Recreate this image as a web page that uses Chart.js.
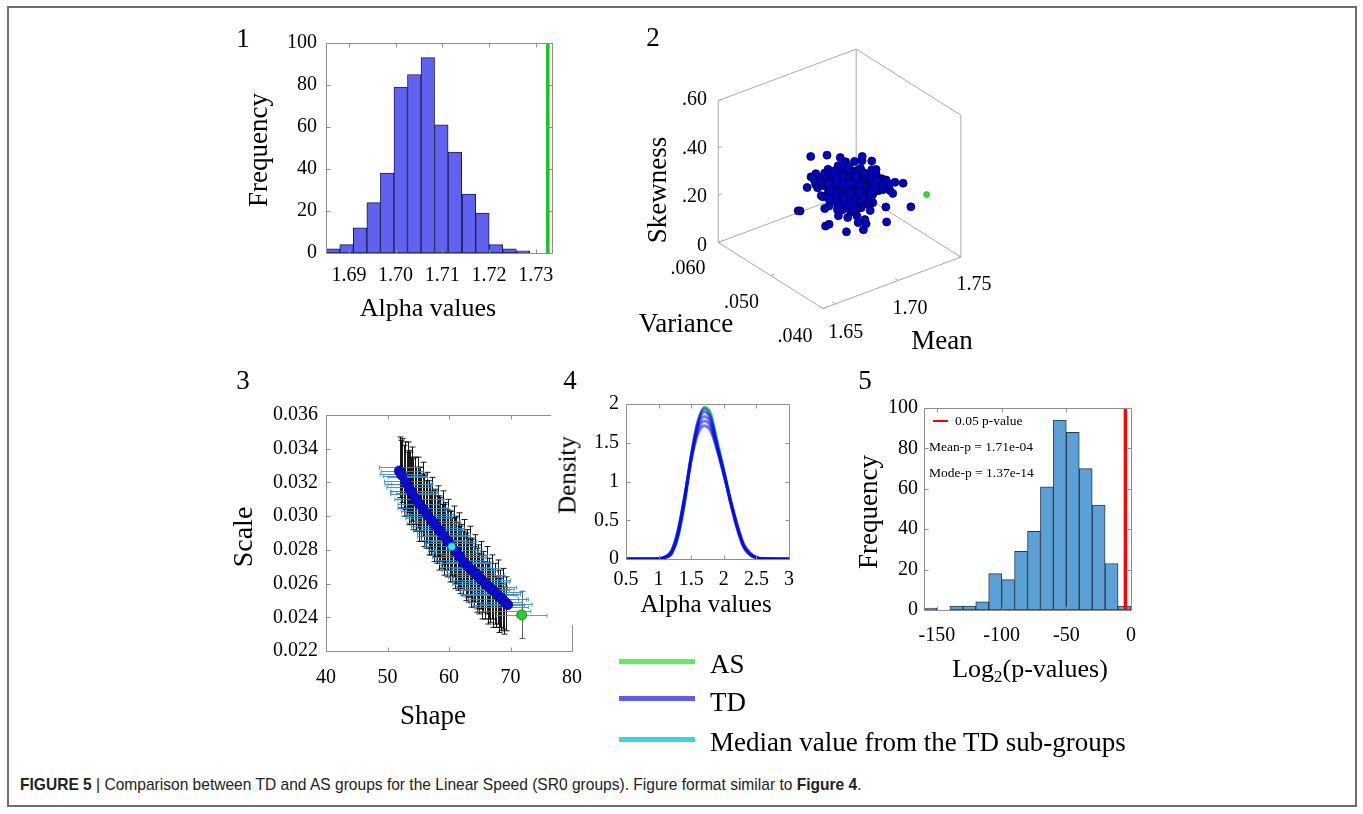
<!DOCTYPE html>
<html><head><meta charset="utf-8">
<script src="https://cdn.jsdelivr.net/npm/chart.js@4.4.1/dist/chart.umd.min.js"></script>
<style>
html,body{margin:0;padding:0;background:#fff;}
body{width:1363px;height:814px;position:relative;overflow:hidden;font-family:"Liberation Serif","Times New Roman",serif;color:#000;}
canvas{position:absolute;}
.t{position:absolute;white-space:nowrap;line-height:1;}
#frame{position:absolute;left:7px;top:6px;width:1350px;height:801px;border:2px solid #6e6e6e;box-sizing:border-box;}
#caption{position:absolute;left:20px;top:775px;font-family:"Liberation Sans Narrow","Liberation Sans",sans-serif;font-size:17px;color:#222;white-space:nowrap;transform:scaleX(0.915);transform-origin:0 50%;}
.lg{position:absolute;height:5px;}
sub{font-size:65%;vertical-align:-0.3em;line-height:0;}
</style></head><body>
<div id="frame"></div>
<canvas id="c1"></canvas><canvas id="c2"></canvas><canvas id="c3"></canvas><canvas id="c4"></canvas><canvas id="c5"></canvas>
<div id="caption"><b>FIGURE 5</b> | Comparison between TD and AS groups for the Linear Speed (SR0 groups). Figure format similar to <b>Figure 4</b>.</div>
<script>
// ---------------- DATA ----------------
// Panel 1: histogram of alpha values (TD) and AS value
const p1BinCenters = [1.6866,1.6895,1.6924,1.6953,1.6982,1.7011,1.7040,1.7069,1.7098,1.7127,1.7157,1.7186,1.7215,1.7244,1.7273];
const p1Counts = [2,4,12,24,38,79,85,93,61,48,28,19,4,2,1];
const p1XTicks = [1.69,1.70,1.71,1.72,1.73];
const p1YTicks = [0,20,40,60,80,100];
const p1AsAlpha = 1.7326;

// Panel 2: 3-D scatter (mean, variance, skewness)
const tdMean = [
1.703,1.712,1.698,1.707,1.719,1.694,1.701,1.709,1.715,1.689,
1.705,1.711,1.697,1.722,1.700,1.708,1.693,1.716,1.704,1.699,
1.713,1.706,1.691,1.718,1.702,1.710,1.696,1.724,1.707,1.700,
1.714,1.687,1.709,1.703,1.720,1.695,1.712,1.706,1.698,1.717,
1.704,1.692,1.711,1.708,1.701,1.726,1.697,1.713,1.705,1.690,
1.716,1.702,1.709,1.694,1.721,1.707,1.700,1.714,1.696,1.710,
1.703,1.718,1.688,1.706,1.712,1.699,1.715,1.704,1.693,1.709,
1.723,1.701,1.708,1.697,1.713,1.705,1.719,1.692,1.711,1.702,
1.706,1.716,1.695,1.710,1.700,1.728,1.704,1.698,1.714,1.707,
1.691,1.712,1.703,1.717,1.699,1.709,1.685,1.715,1.706,1.701,
1.720,1.696,1.711,1.704,1.708,1.694,1.713,1.700,1.718,1.705,
1.697,1.710,1.725,1.702,1.707,1.693,1.716,1.703,1.711,1.699,
1.708,1.714,1.690,1.706,1.701,1.719,1.697,1.712,1.704,1.709,
1.695,1.717,1.702,1.710,1.686,1.707,1.713,1.700,1.722,1.705,
1.698,1.711,1.706,1.693,1.715,1.703,1.709,1.720,1.701,1.696,
1.712,1.704,1.718,1.699,1.707,1.692,1.714,1.708,1.702,1.727,
1.705,1.697,1.710,1.716,1.700,1.711,1.694,1.706,1.713,1.703,
1.689,1.708,1.701,1.719,1.704,1.698,1.715,1.707,1.712,1.696,
1.709,1.723,1.702,1.706,1.691,1.713,1.700,1.717,1.705,1.710,
1.699,1.704,1.714,1.695,1.708,1.701,1.721,1.703,1.697,1.711,
1.672,1.685,1.662,1.731,1.729,1.7005,1.695,1.712,1.688,1.720,1.676,1.735,
1.714,1.696,1.721,1.703,1.709,1.690,1.717,1.700,1.711,1.726,
1.698,1.712,1.705,1.719,1.693,1.708,1.715,1.701,1.723,1.706,
1.697,1.713,1.709,1.688,1.716,1.704,1.720,1.699,1.711,1.707,
1.702,1.724,1.695,1.712,1.706,1.718,1.700,1.714,1.691,1.709,
1.717,1.703,1.710,1.722,1.698,1.713,1.705,1.692,1.716,1.708,
1.701,1.719,1.707,1.696,1.712,1.725,1.704,1.710,1.699,1.715,
1.706,1.694,1.718,1.702,1.711,1.708,1.720,1.697,1.713,1.705,
1.716,1.700,1.709,1.689,1.714,1.706,1.703,1.721,1.711,1.698,
1.708,1.715,1.693,1.710,1.719,1.702,1.712,1.707,1.696,1.717,
1.704,1.711,1.723,1.700,1.709,1.714,1.697,1.706,1.718,1.702];
const tdVariance = [
.0502,.0487,.0515,.0496,.0508,.0521,.0479,.0504,.0493,.0531,
.0499,.0512,.0484,.0506,.0525,.0491,.0517,.0500,.0476,.0509,
.0495,.0528,.0503,.0489,.0514,.0498,.0522,.0481,.0507,.0494,
.0519,.0501,.0486,.0511,.0497,.0535,.0492,.0505,.0516,.0483,
.0508,.0524,.0490,.0502,.0513,.0478,.0506,.0499,.0520,.0488,
.0497,.0510,.0482,.0526,.0495,.0504,.0515,.0491,.0507,.0473,
.0512,.0496,.0529,.0500,.0485,.0518,.0493,.0509,.0523,.0498,
.0480,.0505,.0514,.0490,.0503,.0527,.0494,.0511,.0487,.0501,
.0516,.0492,.0506,.0532,.0497,.0485,.0510,.0502,.0519,.0489,
.0508,.0495,.0521,.0484,.0513,.0499,.0538,.0491,.0504,.0517,
.0486,.0511,.0498,.0525,.0493,.0507,.0480,.0514,.0496,.0503,
.0520,.0490,.0477,.0509,.0501,.0524,.0488,.0512,.0495,.0516,
.0499,.0483,.0530,.0505,.0492,.0510,.0518,.0487,.0506,.0497,
.0522,.0489,.0508,.0494,.0533,.0502,.0481,.0515,.0498,.0507,
.0513,.0496,.0485,.0527,.0491,.0504,.0519,.0479,.0510,.0523,
.0488,.0506,.0494,.0517,.0500,.0529,.0483,.0498,.0511,.0475,
.0503,.0520,.0492,.0486,.0514,.0497,.0526,.0505,.0490,.0509,
.0534,.0495,.0512,.0482,.0501,.0518,.0487,.0507,.0496,.0521,
.0493,.0478,.0510,.0504,.0528,.0489,.0515,.0485,.0502,.0494,
.0511,.0506,.0484,.0522,.0497,.0513,.0480,.0500,.0517,.0492,
.050,.050,.050,.045,.046,.050,.052,.049,.051,.047,.053,.049,
.0501,.0495,.0506,.0498,.0510,.0492,.0503,.0508,.0497,.0504,
.0499,.0511,.0494,.0502,.0507,.0496,.0505,.0500,.0509,.0493,
.0503,.0498,.0512,.0501,.0495,.0506,.0499,.0504,.0510,.0497,
.0502,.0508,.0494,.0505,.0500,.0511,.0496,.0503,.0498,.0507,
.0504,.0499,.0509,.0493,.0502,.0506,.0497,.0501,.0512,.0495,
.0500,.0505,.0498,.0508,.0503,.0494,.0507,.0501,.0496,.0510,
.0497,.0503,.0509,.0500,.0505,.0492,.0502,.0507,.0499,.0504,
.0508,.0496,.0501,.0506,.0498,.0511,.0503,.0495,.0505,.0500,
.0502,.0509,.0497,.0504,.0499,.0507,.0494,.0503,.0510,.0501,
.0506,.0498,.0503,.0508,.0495,.0502,.0500,.0505,.0497,.0509];
const tdSkewness = [
.24,.21,.27,.19,.25,.30,.22,.18,.26,.29,
.23,.16,.28,.24,.20,.33,.22,.25,.10,.27,
.21,.26,.31,.23,.19,.28,.24,.15,.22,.35,
.25,.20,.27,.22,.29,.18,.24,.26,.21,.32,
.23,.28,.11,.25,.36,.22,.27,.20,.24,.30,
.17,.26,.23,.29,.21,.25,.14,.28,.22,.24,
.27,.20,.25,.31,.23,.18,.26,.22,.29,.09,
.24,.33,.19,.27,.23,.25,.16,.28,.22,.26,
.30,.21,.24,.18,.27,.23,.34,.20,.25,.22,
.28,.24,.12,.26,.21,.29,.23,.17,.27,.32,
.22,.25,.28,.13,.24,.20,.26,.31,.23,.19,
.27,.22,.25,.30,.18,.24,.21,.28,.37,.23,
.20,.26,.23,.29,.16,.25,.22,.27,.11,.24,
.31,.21,.26,.24,.28,.15,.23,.30,.20,.25,
.22,.27,.33,.19,.24,.26,.21,.28,.17,.23,
.25,.20,.29,.22,.35,.24,.27,.12,.26,.21,
.28,.23,.19,.25,.30,.22,.14,.27,.24,.20,
.26,.32,.21,.24,.18,.28,.23,.25,.29,.22,
.19,.27,.24,.16,.26,.21,.31,.23,.20,.28,
.24,.22,.36,.25,.19,.27,.23,.30,.21,.26,
.44,.42,.23,.18,.27,.065,.08,.09,.10,.11,.16,.22,
.20,.26,.17,.24,.29,.19,.22,.31,.15,.25,
.27,.18,.23,.14,.28,.21,.33,.19,.24,.16,
.29,.22,.13,.26,.20,.30,.18,.25,.23,.16,
.21,.27,.32,.17,.24,.19,.28,.22,.26,.14,
.18,.30,.21,.25,.16,.27,.20,.34,.23,.19,
.26,.15,.24,.29,.17,.22,.31,.20,.27,.18,
.23,.28,.16,.25,.21,.30,.19,.13,.24,.26,
.20,.17,.29,.22,.27,.15,.32,.23,.18,.25,
.28,.21,.19,.26,.12,.24,.30,.17,.22,.27,
.16,.25,.20,.33,.23,.18,.28,.21,.26,.19];
const asPoint3D = {mean:1.731, variance:0.042, skewness:0.274};
const p2MeanTicks = [1.65,1.70,1.75], p2MeanLabels = ["1.65","1.70","1.75"];
const p2VarTicks = [0.040,0.050,0.060], p2VarLabels = [".040",".050",".060"];
const p2SkewTicks = [0,0.2,0.4,0.6], p2SkewLabels = ["0",".20",".40",".60"];

// Panel 3: shape vs scale
const tdShape = [51.92,52.31,53.01,53.55,53.98,54.63,55.17,55.83,56.48,57.18,57.89,58.54,59.19,59.89,61.14,61.79,62.44,63.14,63.85,64.50,65.15,65.85,66.56,67.21,67.85,68.57,69.11,69.54];
const tdScale = [.03268,.03244,.03198,.03165,.03139,.03102,.03072,.03041,.03007,.02973,.02942,.02912,.02882,.02849,.02789,.02760,.02724,.02700,.02676,.02653,.02627,.02602,.02578,.02558,.02534,.02511,.02491,.02475];
const medianShape = 60.43, medianScale = 0.02819;
const asShape = 71.82, asScale = 0.02414, asScaleErr = 0.0014, asShapeErr = 4.1;
const bandShape = [52.0,52.4,52.9,53.3,53.6,54.0,54.4,54.9,55.3,55.7,56.0,56.5,56.9,57.3,57.7,58.2,58.6,59.0,59.4,59.9,60.3,60.8,61.2,61.6,62.0,62.5,62.9,63.4,63.8,64.3,64.7,65.2,65.6,66.1,66.5,67.0,67.4,67.9,68.3,68.8,69.3];
const bandScale = [.0329,.0327,.0324,.0323,.0319,.0319,.0315,.0314,.0310,.0310,.0305,.0305,.0300,.0301,.0296,.0297,.0292,.0293,.0288,.0289,.0284,.0285,.0280,.0280,.0276,.0277,.0272,.0273,.0268,.0269,.0264,.0265,.0261,.0262,.0257,.0258,.0254,.0255,.0251,.0251,.0248];
const bandScaleErr = [.0018,.0019,.0020,.0021,.0019,.0022,.0020,.0021,.0019,.0022,.0020,.0021,.0019,.0022,.0020,.0021,.0019,.0022,.0020,.0021,.0019,.0021,.0020,.0022,.0019,.0021,.0020,.0021,.0019,.0020,.0019,.0020,.0018,.0020,.0018,.0019,.0018,.0019,.0017,.0018,.0016];
const bandShapeErr = [3.3,3.4,3.6,3.2,3.5,3.3,3.7,3.4,3.6,3.5,3.8,3.4,3.6,3.5,3.9,3.6,3.7,3.5,3.8,3.6,3.9,3.7,3.6,3.8,4.0,3.7,3.9,3.8,4.1,3.8,4.0,3.9,4.2,3.9,4.1,4.0,4.2,4.0,4.3,4.1,4.2];
const bandShape2 = [52.2,52.7,53.1,53.5,53.8,54.2,54.7,55.1,55.5,55.9,56.3,56.7,57.1,57.5,58.0,58.4,58.8,59.2,59.7,60.1,60.5,61.0,61.4,61.8,62.3,62.7,63.1,63.6,64.0,64.5,64.9,65.4,65.8,66.3,66.7,67.2,67.6,68.1,68.5,69.0];
const bandScale2 = [.0325,.0321,.0319,.0317,.0315,.0313,.0310,.0307,.0305,.0303,.0301,.0299,.0296,.0294,.0292,.0290,.0288,.0286,.0284,.0282,.0280,.0278,.0276,.0274,.0272,.0270,.0268,.0266,.0264,.0262,.0260,.0258,.0256,.0254,.0253,.0251,.0249,.0247,.0246,.0244];
const bandScaleErr2 = [.0020,.0021,.0019,.0022,.0020,.0021,.0019,.0022,.0020,.0021,.0020,.0022,.0019,.0021,.0020,.0022,.0019,.0021,.0020,.0021,.0019,.0021,.0020,.0020,.0019,.0020,.0019,.0020,.0018,.0019,.0018,.0019,.0017,.0018,.0016,.0017,.0015,.0016,.0014,.0014];
const bandShapeErr2 = [3.4,3.2,3.5,3.6,3.3,3.7,3.5,3.4,3.8,3.6,3.5,3.7,3.9,3.6,3.8,3.5,3.9,3.7,3.6,4.0,3.8,3.7,4.1,3.9,3.8,4.0,4.2,3.9,4.1,4.0,4.3,4.1,4.0,4.2,4.4,4.1,4.3,4.2,4.4,4.3];
const p3XTicks = [40,50,60,70,80];
const p3YTicks = [0.022,0.024,0.026,0.028,0.030,0.032,0.034,0.036];

// Panel 4: density curves
const densX = [0.5,0.9,1.0,1.1,1.2,1.3,1.4,1.5,1.6,1.7,1.8,1.9,2.0,2.1,2.2,2.3,2.4,2.5,2.6,3.0];
const densTD = [
 [0,0,0.003,0.020,0.080,0.33,0.78,1.33,1.74,1.90,1.80,1.46,1.13,0.75,0.42,0.17,0.060,0.015,0.002,0],
 [0,0,0.004,0.025,0.100,0.36,0.80,1.30,1.66,1.78,1.70,1.42,1.10,0.76,0.44,0.19,0.070,0.020,0.003,0],
 [0,0,0.003,0.022,0.090,0.34,0.79,1.31,1.70,1.84,1.75,1.44,1.11,0.75,0.43,0.18,0.065,0.017,0.002,0],
 [0,0,0.005,0.030,0.110,0.38,0.81,1.28,1.61,1.72,1.65,1.40,1.09,0.77,0.46,0.20,0.080,0.022,0.004,0],
 [0,0,0.002,0.018,0.075,0.31,0.76,1.33,1.77,1.94,1.83,1.47,1.12,0.74,0.41,0.16,0.055,0.013,0.002,0]
];
const densAS = [0,0,0.002,0.015,0.065,0.28,0.70,1.27,1.74,1.96,1.88,1.53,1.17,0.78,0.44,0.18,0.065,0.016,0.002,0];
const p4XTicks = [0.5,1,1.5,2,2.5,3];
const p4YTicks = [0,0.5,1,1.5,2];

// Panel 5: histogram of log2(p-values)
const p5BinCenters = [-155,-145,-135,-125,-115,-105,-95,-85,-75,-65,-55,-45,-35,-25,-15,-5];
const p5Counts = [1,0,2,2,4,18,15,29,39,61,94,88,70,52,23,2];
const p5Threshold = -4.32; // log2(0.05)
const p5XTicks = [-150,-100,-50,0];
const p5YTicks = [0,20,40,60,80,100];

// ---------------- HELPERS ----------------
Chart.defaults.font.family = '"Liberation Serif","Times New Roman",serif';
Chart.defaults.color = '#000';
const tickFont = {family:'"Liberation Serif","Times New Roman",serif', size:20};

const framePlugin = {
  id:'frame',
  afterDatasetsDraw(chart, args, o){
    if(!o || !o.show) return;
    const ctx = chart.ctx, a = chart.chartArea, xs = chart.scales.x, ys = chart.scales.y;
    const L=Math.round(a.left)+.5, R=Math.round(a.right)+.5, T=Math.round(a.top)+.5, B=Math.round(a.bottom)+.5;
    const topEnd = o.topEnd!=null ? xs.getPixelForValue(o.topEnd) : R;
    const rightStart = o.rightStart!=null ? ys.getPixelForValue(o.rightStart) : T;
    ctx.save();
    ctx.strokeStyle = o.color || '#8e8e8e'; ctx.lineWidth = 1;
    ctx.beginPath();
    ctx.moveTo(L,T); ctx.lineTo(L,B); ctx.lineTo(R,B);
    ctx.moveTo(R,B); ctx.lineTo(R,rightStart);
    ctx.moveTo(L,T); ctx.lineTo(topEnd,T);
    const tl = 4;
    xs.ticks.forEach(t=>{const px=Math.round(xs.getPixelForValue(t.value))+.5;
      ctx.moveTo(px,B); ctx.lineTo(px,B-tl);
      if(px<=topEnd){ctx.moveTo(px,T); ctx.lineTo(px,T+tl);} });
    ys.ticks.forEach(t=>{const py=Math.round(ys.getPixelForValue(t.value))+.5;
      ctx.moveTo(L,py); ctx.lineTo(L+tl,py);
      if(py>=rightStart){ctx.moveTo(R,py); ctx.lineTo(R-tl,py);} });
    ctx.stroke(); ctx.restore();
  }
};
const errPlugin = {
  id:'errbars',
  beforeDatasetsDraw(chart, args, o){
    if(!o || !o.sets) return;
    const ctx = chart.ctx, xs = chart.scales.x, ys = chart.scales.y;
    ctx.save();
    o.sets.forEach(s=>{
      ctx.strokeStyle = s.vColor; ctx.lineWidth = 1;
      ctx.beginPath();
      for(let i=0;i<s.x.length;i++){
        const px = Math.round(xs.getPixelForValue(s.x[i]))+.5;
        const y1 = ys.getPixelForValue(s.y[i]-s.ye[i]), y2 = ys.getPixelForValue(s.y[i]+s.ye[i]);
        ctx.moveTo(px,y1); ctx.lineTo(px,y2);
        ctx.moveTo(px-3,y1); ctx.lineTo(px+3,y1);
        ctx.moveTo(px-3,y2); ctx.lineTo(px+3,y2);
      }
      ctx.stroke();
    });
    o.sets.forEach(s=>{
      ctx.strokeStyle = s.hColor; ctx.lineWidth = 1;
      ctx.beginPath();
      for(let i=0;i<s.x.length;i++){
        const py = Math.round(ys.getPixelForValue(s.y[i]))+.5;
        const x1 = xs.getPixelForValue(s.x[i]-s.xe[i]), x2 = xs.getPixelForValue(s.x[i]+s.xe[i]);
        ctx.moveTo(x1,py); ctx.lineTo(x2,py);
        ctx.moveTo(x1,py-2); ctx.lineTo(x1,py+2);
        ctx.moveTo(x2,py-2); ctx.lineTo(x2,py+2);
      }
      ctx.stroke();
    });
    ctx.restore();
  }
};
Chart.register(framePlugin, errPlugin);

function setupCanvas(id, box){
  const c = document.getElementById(id);
  c.width = box[2]; c.height = box[3];
  c.style.left = box[0]+'px'; c.style.top = box[1]+'px';
  c.style.width = box[2]+'px'; c.style.height = box[3]+'px';
  return c;
}
function axisX(min,max,ticks,fmt,pad,box,area){
  return {type:'linear', min, max, offset:false,
    grid:{display:false, drawTicks:false}, border:{display:false},
    afterBuildTicks:s=>{s.ticks = ticks.map(v=>({value:v}));},
    afterFit:s=>{s.height = box[1]+box[3]-area[3];},
    ticks:{font:tickFont, color:'#000', padding:pad, autoSkip:false, maxRotation:0, minRotation:0, callback:fmt}};
}
function axisY(min,max,ticks,fmt,pad,box,area){
  return {type:'linear', min, max,
    grid:{display:false, drawTicks:false}, border:{display:false},
    afterBuildTicks:s=>{s.ticks = ticks.map(v=>({value:v}));},
    afterFit:s=>{s.width = area[0]-box[0];},
    ticks:{font:tickFont, color:'#000', padding:pad, autoSkip:false, callback:fmt}};
}
function baseOpts(box, area){
  return {responsive:false, animation:false, devicePixelRatio:1,
    layout:{padding:{top:area[1]-box[1], right:box[0]+box[2]-area[2], left:0, bottom:0}},
    plugins:{legend:{display:false}, tooltip:{enabled:false}}};
}
function addText(html, x, y, size, opt){
  opt = opt||{};
  const d = document.createElement('div');
  d.className='t'; d.innerHTML = html;
  d.style.left = x+'px'; d.style.top = y+'px'; d.style.fontSize = size+'px';
  const ax = opt.align==='right' ? '-100%' : (opt.align==='left' ? '0' : '-50%');
  d.style.transform = 'translate('+ax+',-50%)' + (opt.rot ? ' rotate(-90deg)' : '');
  if(opt.color) d.style.color = opt.color;
  document.body.appendChild(d);
}

// ---------------- PANEL 1 ----------------
(function(){
  const box=[220,20,360,300], area=[326,43,552,253];
  const c = setupCanvas('c1', box);
  const o = baseOpts(box, area);
  o.scales = {
    x: axisX(1.6851,1.7335,p1XTicks,v=>v.toFixed(2),11,box,area),
    y: axisY(0,100,p1YTicks,v=>String(v),9,box,area)
  };
  o.plugins.frame = {show:true};
  new Chart(c, {type:'bar', data:{datasets:[
    {type:'bar', data:p1BinCenters.map((x,i)=>({x, y:p1Counts[i]})), backgroundColor:'#6161ef', borderColor:'#1c1c55', borderWidth:1, borderSkipped:false, barPercentage:1, categoryPercentage:1, order:2},
    {type:'line', data:[{x:p1AsAlpha,y:0},{x:p1AsAlpha,y:100}], borderColor:'#1bc41b', borderWidth:3.5, pointRadius:0, order:1}
  ]}, options:o});
  addText('1', 243, 38, 27);
  addText('Frequency', 258, 150, 27, {rot:true});
  addText('Alpha values', 428, 308, 26);
})();

// ---------------- PANEL 2 ----------------
const VIEW = {ox:823, oy:312, mx:141, my:-53, vx:-107, vy:-68, sy:-146};
const RANGE = {mean:[1.64,1.75], variance:[0.040,0.060], skew:[0,0.6]};
function proj(m,v,s){
  const fm=(m-RANGE.mean[0])/(RANGE.mean[1]-RANGE.mean[0]);
  const fv=(v-RANGE.variance[0])/(RANGE.variance[1]-RANGE.variance[0]);
  const fs=(s-RANGE.skew[0])/(RANGE.skew[1]-RANGE.skew[0]);
  return {x: VIEW.ox + fm*VIEW.mx + fv*VIEW.vx, y: VIEW.oy + fm*VIEW.my + fv*VIEW.vy + fs*VIEW.sy};
}
(function(){
  const box=[600,20,440,340];
  const c = setupCanvas('c2', box);
  const M0=RANGE.mean[0], M1=RANGE.mean[1], V0=RANGE.variance[0], V1=RANGE.variance[1], S0=RANGE.skew[0], S1=RANGE.skew[1];
  const edges = [
    [[M1,V1,S0],[M1,V1,S1]], [[M0,V1,S0],[M0,V1,S1]], [[M1,V0,S0],[M1,V0,S1]],
    [[M0,V1,S1],[M1,V1,S1]], [[M1,V0,S1],[M1,V1,S1]],
    [[M0,V1,S0],[M1,V1,S0]], [[M1,V0,S0],[M1,V1,S0]],
    [[M0,V0,S0],[M0,V1,S0]], [[M0,V0,S0],[M1,V0,S0]]
  ];
  p2SkewTicks.forEach(s=>edges.push([[M0,V1,s],[M0+0.003,V1,s]]));
  p2VarTicks.forEach(v=>edges.push([[M0,v,S0],[M0+0.003,v,S0]]));
  p2MeanTicks.forEach(m=>edges.push([[m,V0,S0],[m,V0+0.0006,S0]]));
  const n = Math.min(tdMean.length, tdVariance.length, tdSkewness.length);
  const pts = [];
  for(let i=0;i<n;i++) pts.push(proj(tdMean[i],tdVariance[i],tdSkewness[i]));
  const ds = [];
  ds.push({type:'scatter', data:pts, pointRadius:4, pointBackgroundColor:'#0000c4', pointBorderColor:'#00004a', pointBorderWidth:0.8, order:1});
  ds.push({type:'scatter', data:[proj(asPoint3D.mean, asPoint3D.variance, asPoint3D.skewness)], pointRadius:3, pointBackgroundColor:'#2ee02e', pointBorderColor:'#1a9a1a', pointBorderWidth:0.6, order:0});
  edges.forEach(e=>ds.push({type:'line', data:[proj(...e[0]), proj(...e[1])], borderColor:'#a9a9a9', borderWidth:1, pointRadius:0, order:5}));
  new Chart(c, {type:'scatter', data:{datasets:ds}, options:{
    responsive:false, animation:false, devicePixelRatio:1, layout:{padding:0},
    plugins:{legend:{display:false}, tooltip:{enabled:false}},
    scales:{x:{type:'linear', display:false, min:box[0], max:box[0]+box[2]},
            y:{type:'linear', display:false, min:box[1], max:box[1]+box[3], reverse:true}}}});
  p2SkewTicks.forEach((s,i)=>{const p=proj(M0,V1,s); addText(p2SkewLabels[i], p.x-9, p.y, 20, {align:'right'});});
  p2VarTicks.forEach((v,i)=>{const p=proj(M0,v,S0); addText(p2VarLabels[i], p.x-28, p.y+23, 20);});
  p2MeanTicks.forEach((m,i)=>{const p=proj(m,V0,S0); addText(p2MeanLabels[i], p.x+10, p.y+24, 20);});
  addText('2', 653, 37, 27);
  addText('Skewness', 657, 190, 27, {rot:true});
  addText('Variance', 686, 323, 27);
  addText('Mean', 942, 340, 27);
})();

// ---------------- PANEL 3 ----------------
(function(){
  const box=[220,390,380,310], area=[326,415,572,651];
  const c = setupCanvas('c3', box);
  const o = baseOpts(box, area);
  o.scales = {
    x: axisX(40,80,p3XTicks,v=>String(v),15,box,area),
    y: axisY(0.022,0.036,p3YTicks,v=>v.toFixed(3),8,box,area)
  };
  o.plugins.frame = {show:true, topEnd:76.6, rightStart:0.02355};
  o.plugins.errbars = {sets:[
    {x:bandShape, y:bandScale, ye:bandScaleErr, xe:bandShapeErr, vColor:'rgba(0,0,0,0.9)', hColor:'rgba(55,140,205,0.9)'},
    {x:bandShape2, y:bandScale2, ye:bandScaleErr2, xe:bandShapeErr2, vColor:'rgba(0,0,0,0.9)', hColor:'rgba(55,140,205,0.9)'},
    {x:[asShape], y:[asScale], ye:[asScaleErr], xe:[asShapeErr], vColor:'rgba(70,70,70,0.85)', hColor:'rgba(62,146,210,0.85)'}
  ]};
  new Chart(c, {type:'scatter', data:{datasets:[
    {data:[{x:medianShape,y:medianScale}], pointRadius:4, pointBackgroundColor:'#3fe6e6', pointBorderColor:'#0a6a80', pointBorderWidth:0.8, order:0},
    {data:[{x:asShape,y:asScale}], pointRadius:5, pointBackgroundColor:'#27cf27', pointBorderColor:'#147a14', pointBorderWidth:0.8, order:0},
    {data:tdShape.map((x,i)=>({x,y:tdScale[i]})), pointRadius:5, pointBackgroundColor:'#0b0bd6', pointBorderColor:'#05057a', pointBorderWidth:0.8, order:1}
  ]}, options:o});
  addText('3', 243, 380, 27);
  addText('Scale', 243, 537, 28, {rot:true});
  addText('Shape', 433, 715, 27);
})();

// ---------------- PANEL 4 ----------------
(function(){
  const box=[580,385,230,215], area=[626,402,789,559];
  const c = setupCanvas('c4', box);
  const o = baseOpts(box, area);
  o.scales = {
    x: axisX(0.5,3,p4XTicks,v=>String(v),9,box,area),
    y: axisY(0,2,p4YTicks,v=>String(v),7,box,area)
  };
  o.plugins.frame = {show:true};
  const ds = [{data:densX.map((x,i)=>({x,y:densAS[i]})), borderColor:'#39e239', borderWidth:2.5, order:10}];
  densTD.forEach(cv=>ds.push({data:densX.map((x,i)=>({x,y:cv[i]})), borderColor:'rgba(8,8,235,0.55)', borderWidth:3, order:1}));
  ds.forEach(d=>{d.pointRadius=0; d.cubicInterpolationMode='monotone'; d.fill=false;});
  new Chart(c, {type:'line', data:{datasets:ds}, options:o});
  addText('4', 570, 380, 27);
  addText('Density', 567, 475, 25, {rot:true});
  addText('Alpha values', 706, 603, 25);
})();

// ---------------- PANEL 5 ----------------
(function(){
  const box=[860,390,300,270], area=[924,403,1131,610];
  const c = setupCanvas('c5', box);
  const o = baseOpts(box, area);
  o.scales = {
    x: axisX(-160,0,p5XTicks,v=>String(v),14,box,area),
    y: axisY(0,100,p5YTicks,v=>String(v),6,box,area)
  };
  o.plugins.frame = {show:true};
  new Chart(c, {type:'bar', data:{datasets:[
    {type:'bar', data:p5BinCenters.map((x,i)=>({x,y:p5Counts[i]})), backgroundColor:'#5ba1d6', borderColor:'#2a3b4c', borderWidth:1, borderSkipped:false, barPercentage:1, categoryPercentage:1, order:2},
    {type:'line', data:[{x:p5Threshold,y:0},{x:p5Threshold,y:100}], borderColor:'#ff0000', borderWidth:3.5, pointRadius:0, order:1}
  ]}, options:o});
  addText('5', 865, 380, 27);
  addText('Frequency', 868, 512, 27, {rot:true});
  addText('Log<sub>2</sub>(p-values)', 1030, 669, 26);
  const red = document.createElement('div'); red.className='lg';
  red.style.cssText='position:absolute;left:933px;top:420px;width:15px;height:2px;background:#ff0000;';
  document.body.appendChild(red);
  addText('0.05 p-value', 955, 421, 13.5, {align:'left'});
  addText('Mean-p = 1.71e-04', 929, 447, 13.5, {align:'left'});
  addText('Mode-p = 1.37e-14', 929, 473, 13.5, {align:'left'});
})();

// ---------------- LEGEND (for density panel) ----------------
(function(){
  const items = [['AS','#5bf05b',661],['TD','#5c5cf0',698.5],['Median value from the TD sub-groups','#3cd8d8',739]];
  items.forEach(it=>{
    const l = document.createElement('div'); l.className='lg';
    l.style.left='619px'; l.style.top=(it[2]-2.5)+'px'; l.style.width='76px'; l.style.background=it[1];
    document.body.appendChild(l);
    addText(it[0], 710, it[2]+3, 27, {align:'left'});
  });
})();
</script>
</body></html>
